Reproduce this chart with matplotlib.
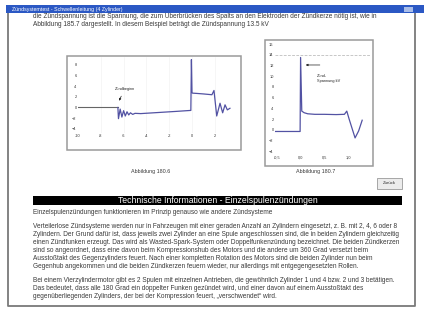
import matplotlib as mpl
mpl.use('Agg')
import matplotlib.pyplot as plt
from matplotlib.patches import Rectangle

plt.rcParams['font.family'] = ['Liberation Sans', 'DejaVu Sans']

W, H = 424, 313

# left chart (Abbildung 180.6)
left_x = [-10, -6.5, -6.45, -6.3, -6.15, -6.0, -5.85, -5.7, -5.55, -5.4, -5.2, -5.0, -4.5,
          -3.0, -1.5, -0.1, -0.05, 0.0, 0.05, 0.4, 1.0, 1.5, 1.75, 1.93, 2.17, 2.46, 2.69,
          2.9, 3.1, 3.33]
left_y = [0, 0, -2.1, -0.3, -1.8, -0.6, -1.6, -0.8, -1.4, -1.0, -1.3, -1.1, -1.15,
          -0.95, -0.75, -0.55, 9.0, 2.8, 2.7, 2.65, 2.55, 2.45, 2.4, 3.2, -1.6, 0.8, -1.0,
          0.5, -0.45, -0.15]
left_xticks = [-10, -8, -6, -4, -2, 0, 2]
left_xlabels = ['-10', '-8', '-6', '-4', '-2', '0', '2']
left_yticks = [8, 6, 4, 2, 0, -2, -4]

# right chart (Abbildung 180.7)
right_x = [-1.08, -0.02, 0.0, 0.05, 0.15, 0.3, 0.6, 1.0, 1.5, 1.85, 1.95, 2.05, 2.3, 2.45, 2.6]
right_y = [-0.3, -0.3, 13.5, 3.5, 3.2, 3.0, 2.9, 2.9, 2.85, 2.9, 3.5, 2.0, -1.5, -0.2, 1.8]
right_xticks = [-1, 0, 1, 2]
right_xlabels = ['-0,5', '0,0', '0,5', '1,0']
right_yticks = [16, 14, 12, 10, 8, 6, 4, 2, 0, -2, -4]

title_text = 'Zündsystemtest - Schwellenleitung (4 Zylinder)'
top_lines = [
    'die Zündspannung ist die Spannung, die zum Überbrücken des Spalts an den Elektroden der Zündkerze nötig ist, wie in',
    'Abbildung 185.7 dargestellt. In diesem Beispiel beträgt die Zündspannung 13.5 kV',
]
banner_text = 'Technische Informationen - Einzelspulenzündungen'
para1 = ['Einzelspulenzündungen funktionieren im Prinzip genauso wie andere Zündsysteme']
para2 = [
    'Verteilerlose Zündsysteme werden nur in Fahrzeugen mit einer geraden Anzahl an Zylindern eingesetzt, z. B. mit 2, 4, 6 oder 8',
    'Zylindern. Der Grund dafür ist, dass jeweils zwei Zylinder an eine Spule angeschlossen sind, die in beiden Zylindern gleichzeitig',
    'einen Zündfunken erzeugt. Das wird als Wasted-Spark-System oder Doppelfunkenzündung bezeichnet. Die beiden Zündkerzen',
    'sind so angeordnet, dass eine davon beim Kompressionshub des Motors und die andere um 360 Grad versetzt beim',
    'Ausstoßtakt des Gegenzylinders feuert. Nach einer kompletten Rotation des Motors sind die beiden Zylinder nun beim',
    'Gegenhub angekommen und die beiden Zündkerzen feuern wieder, nur allerdings mit entgegengesetzten Rollen.',
]
para3 = [
    'Bei einem Vierzylindermotor gibt es 2 Spulen mit einzelnen Antrieben, die gewöhnlich Zylinder 1 und 4 bzw. 2 und 3 betätigen.',
    'Das bedeutet, dass alle 180 Grad ein doppelter Funken gezündet wird, und einer davon auf einem Ausstoßtakt des',
    'gegenüberliegenden Zylinders, der bei der Kompression feuert, „verschwendet“ wird.',
]

FS = 4.7
TXT = '#3a3a3a'
LINE = '#5252a3'


def fx(x):
    return x / W


def fy(y):
    return 1 - y / H


def rect(x0, y0, x1, y1, **kw):
    fig.patches.append(Rectangle((fx(x0), fy(y1)), (x1 - x0) / W, (y1 - y0) / H,
                                 transform=fig.transFigure, figure=fig, **kw))


def axes_px(x0, y0, x1, y1):
    return fig.add_axes([fx(x0), fy(y1), (x1 - x0) / W, (y1 - y0) / H], zorder=2)


def style_chart(ax):
    ax.set_facecolor('none')
    for s in ax.spines.values():
        s.set_visible(False)
    ax.tick_params(length=0, labelsize=2.8, colors='#333333', pad=1)


fig = plt.figure(figsize=(W / 100, H / 100), dpi=100)
fig.patch.set_facecolor('white')

# text partly hidden behind title bar
fig.text(fx(33), fy(16), top_lines[0], fontsize=FS, color=TXT, va='center', zorder=1)
fig.text(fx(33), fy(25), top_lines[1], fontsize=FS, color=TXT, va='center')

# title bar and window frame
rect(6, 5, 424, 13, facecolor='#2b58c4', edgecolor='none', zorder=5)
fig.text(fx(12), fy(9), title_text, fontsize=3.8, color='white', va='center', zorder=6)
rect(404, 6.5, 413, 11.5, facecolor='#a9bde8', edgecolor='none', zorder=6)
fig.lines.append(plt.Line2D([fx(7.5), fx(7.5), fx(415), fx(415)],
                            [fy(13), fy(306), fy(306), fy(13)],
                            transform=fig.transFigure, color='#7a7a7a', lw=1.3))

# chart frames (behind the axes)
rect(67, 56, 241, 150, facecolor='white', edgecolor='#9a9a9a', lw=1.1, zorder=-1)
rect(265, 40, 373, 166, facecolor='white', edgecolor='#9a9a9a', lw=1.1, zorder=-1)

# left chart: baseline part grey, signal blue
ax1 = axes_px(78, 57, 235.3, 133)
ax1.plot(left_x[:2], left_y[:2], color='#666666', lw=0.8)
ax1.plot(left_x[1:], left_y[1:], color=LINE, lw=0.9)
ax1.set_xlim(-10, 3.8)
ax1.set_ylim(-4.8, 9.5)
ax1.set_xticks(left_xticks, left_xlabels)
ax1.set_yticks(left_yticks)
for t in left_xticks[1:]:
    ax1.axvline(t, color='#f0f0f0', lw=0.4, zorder=0)
style_chart(ax1)
ax1.annotate('Zündbeginn', xy=(-6.5, 0.8), xytext=(-5.9, 3.5), fontsize=2.8,
             ha='center', va='center', color='#222222',
             arrowprops=dict(arrowstyle='-|>', color='#222222', lw=0.5,
                             mutation_scale=3))

# right chart
ax2 = axes_px(275, 43, 370, 154)
ax2.plot(right_x, right_y, color=LINE, lw=0.9)
ax2.axhline(14, color='#b0b0b0', lw=0.5, ls=(0, (4, 2)), zorder=0)
ax2.set_xlim(-1.08, 2.93)
ax2.set_ylim(-4.5, 16.2)
ax2.set_xticks(right_xticks, right_xlabels)
ax2.set_yticks(right_yticks)
style_chart(ax2)
ax2.annotate('', xy=(0.1, 12.1), xytext=(0.93, 12.1),
             arrowprops=dict(arrowstyle='-|>', color='#222222', lw=0.5, mutation_scale=3))
ax2.text(0.68, 9.6, 'Zünd-\nSpannung kV', fontsize=2.8, color='#222222', va='center',
         linespacing=1.2)

# captions
fig.text(fx(151), fy(172), 'Abbildung 180.6', fontsize=3.9, color=TXT, ha='center', va='center')
fig.text(fx(316), fy(172), 'Abbildung 180.7', fontsize=3.9, color=TXT, ha='center', va='center')

# button
rect(377, 178, 402, 189, facecolor='#ececec', edgecolor='#9a9a9a', lw=0.6)
fig.text(fx(389.5), fy(183.5), 'Zurück', fontsize=3.2, color='#333333', ha='center', va='center')

# banner
rect(33, 196, 402, 205, facecolor='black', edgecolor='none')
fig.text(fx(217.5), fy(200.5), banner_text, fontsize=6.2, color='white', ha='center', va='center')

# body text
y = 213
for line in para1:
    fig.text(fx(33), fy(y), line, fontsize=FS, color=TXT, va='center')
y = 227
for line in para2:
    fig.text(fx(33), fy(y), line, fontsize=FS, color=TXT, va='center')
    y += 8
y = 281
for line in para3:
    fig.text(fx(33), fy(y), line, fontsize=FS, color=TXT, va='center')
    y += 8

fig.savefig('out.png', dpi=100)
